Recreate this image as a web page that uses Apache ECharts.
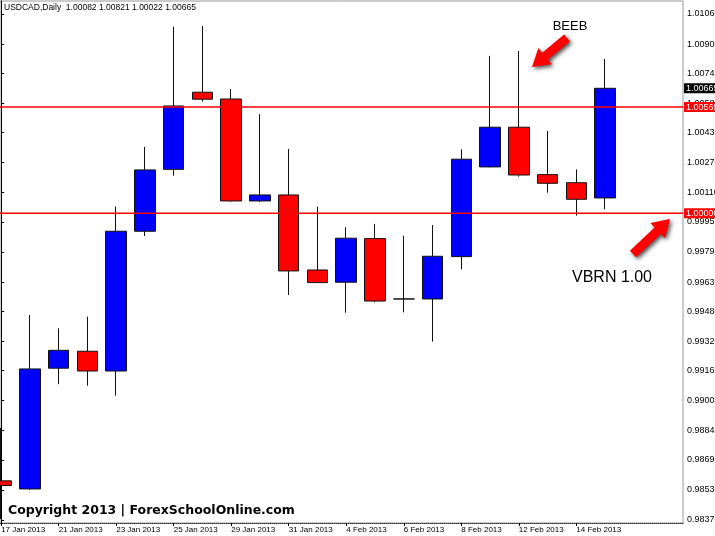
<!DOCTYPE html>
<html>
<head>
<meta charset="utf-8">
<title>USDCAD Daily</title>
<script src="https://cdn.jsdelivr.net/npm/echarts@6/dist/echarts.min.js"></script>
<style>
  html, body { margin: 0; padding: 0; background: #fff; }
  #chart { width: 715px; height: 536px; }
</style>
</head>
<body>
<div id="chart"></div>
<script>
// USDCAD daily candles
const dates = [
  '17 Jan 2013', '18 Jan 2013', '21 Jan 2013', '22 Jan 2013', '23 Jan 2013', '24 Jan 2013',
  '25 Jan 2013', '28 Jan 2013', '29 Jan 2013', '30 Jan 2013', '31 Jan 2013', '1 Feb 2013',
  '4 Feb 2013', '5 Feb 2013', '6 Feb 2013', '7 Feb 2013', '8 Feb 2013', '11 Feb 2013',
  '12 Feb 2013', '13 Feb 2013', '14 Feb 2013', '15 Feb 2013'
];
const opens = [
  0.98578, 0.98535, 0.99177, 0.99267, 0.99162, 0.99905, 1.00234, 1.00644, 1.00608, 1.00066, 1.00098,
  0.99699, 0.99634, 0.99866, 0.99545, 0.99545, 0.99770, 1.00247, 1.00458, 1.00206, 1.00163, 1.00082
];
const highs = [
  0.98859, 0.99460, 0.99389, 0.99451, 1.00036, 1.00353, 1.00992, 1.00996, 1.00661, 1.00528, 1.00342,
  1.00036, 0.99926, 0.99944, 0.99881, 0.99938, 1.00341, 1.00837, 1.00863, 1.00438, 1.00234, 1.00821
];
const lows = [
  0.98375, 0.98530, 0.99092, 0.99084, 0.99031, 0.99880, 1.00200, 1.00594, 1.00062, 1.00060, 0.99566,
  0.99630, 0.99472, 0.99527, 0.99474, 0.99318, 0.99703, 1.00245, 1.00195, 1.00110, 0.99988, 1.00022
];
const closes = [
  0.98553, 0.99173, 0.99272, 0.99162, 0.99905, 1.00231, 1.00571, 1.00607, 1.00066, 1.00098, 0.99694,
  0.99632, 0.99868, 0.99534, 0.99545, 0.99772, 1.00288, 1.00458, 1.00204, 1.00160, 1.00075, 1.00665
];

// price scale labels as MT4 printed them
const yTicks = [
  0.98370, 0.98530, 0.98690, 0.98845, 0.99005, 0.99165, 0.99320, 0.99480, 0.99635,
  0.99795, 0.99955, 1.00110, 1.00270, 1.00430, 1.00585, 1.00745, 1.00900, 1.01060
];
// every second bar gets a date label
const dateTicks = [0, 2, 4, 6, 8, 10, 12, 14, 16, 18, 20];

const levels = [1.00565, 1.00000];   // horizontal S/R lines
const bid = 1.00665;                 // last price box
const title = 'USDCAD,Daily  1.00082 1.00821 1.00022 1.00665';

const X_MIN = -0.04, X_MAX = 23.71;  // bar 0 sits right on the left edge, empty space after last bar
const FONT = 'Liberation Sans';

// fat annotation arrow as a polygon, from tail to tip
function arrow(tail, tip, shaft, headW, headL) {
  const dx = tip[0] - tail[0], dy = tip[1] - tail[1];
  const len = Math.sqrt(dx * dx + dy * dy);
  const ux = dx / len, uy = dy / len;
  const nx = -uy, ny = ux;
  const bx = tip[0] - ux * headL, by = tip[1] - uy * headL;
  const pts = [
    [tail[0] + nx * shaft / 2, tail[1] + ny * shaft / 2],
    [bx + nx * shaft / 2, by + ny * shaft / 2],
    [bx + nx * headW / 2, by + ny * headW / 2],
    tip,
    [bx - nx * headW / 2, by - ny * headW / 2],
    [bx - nx * shaft / 2, by - ny * shaft / 2],
    [tail[0] - nx * shaft / 2, tail[1] - ny * shaft / 2]
  ];
  return {
    type: 'polygon',
    shape: { points: pts },
    style: {
      fill: '#ff0000',
      shadowBlur: 4,
      shadowColor: 'rgba(0,0,0,0.7)',
      shadowOffsetX: 2,
      shadowOffsetY: 2
    },
    z: 10
  };
}

const chart = echarts.init(document.getElementById('chart'));

const candles = dates.map((d, i) => [i, opens[i], closes[i], lows[i], highs[i]]);

// horizontal level lines, drawn as two-point line series
const levelSeries = levels.map((v) => ({
  type: 'line',
  data: [[X_MIN, v], [X_MAX, v]],
  showSymbol: false,
  silent: true,
  lineStyle: { color: '#ff0000', width: 1.5, opacity: 1 },
  z: 3
}));

// price boxes on the scale
const priceBox = (v, bg) => ({
  value: [X_MAX, v],
  label: { backgroundColor: bg }
});

const option = {
  animation: false,
  backgroundColor: '#fff',
  grid: {
    left: 0,
    right: 32,
    top: 1,
    bottom: 13,
    show: true,
    borderColor: '#999',
    borderWidth: 1,
    outerBoundsMode: 'none'
  },
  xAxis: {
    type: 'value',
    min: X_MIN,
    max: X_MAX,
    axisLine: { onZero: false, lineStyle: { color: '#333', type: 'dotted', width: 1 } },
    axisTick: { show: true, customValues: dateTicks, length: 3, lineStyle: { color: '#000' } },
    axisLabel: {
      customValues: dateTicks,
      formatter: (v) => dates[v],
      align: 'left',
      margin: 3,
      color: '#000',
      fontFamily: FONT,
      fontSize: 8
    },
    splitLine: { show: false }
  },
  yAxis: {
    type: 'value',
    position: 'right',
    min: 0.98354,
    max: 1.01129,
    axisLine: { show: true, lineStyle: { color: '#000', width: 1 } },
    axisTick: { show: true, customValues: yTicks, length: 3, lineStyle: { color: '#000' } },
    axisLabel: {
      customValues: yTicks,
      formatter: (v) => v.toFixed(5),
      margin: 4,
      color: '#000',
      fontFamily: FONT,
      fontSize: 9
    },
    splitLine: { show: false }
  },
  series: [
    {
      type: 'candlestick',
      data: candles,
      barWidth: 21,
      clip: true,
      itemStyle: {
        color: '#0000ff',
        color0: '#ff0000',
        borderColor: '#111',
        borderColor0: '#111',
        borderColorDoji: '#111',
        borderWidth: 1
      }
    },
    ...levelSeries,
    {
      type: 'scatter',
      clip: false,
      silent: true,
      symbolSize: 0.1,
      itemStyle: { color: '#fff', opacity: 1 },
      z: 5,
      label: {
        show: true,
        position: 'right',
        distance: 1,
        opacity: 1,
        formatter: (p) => p.value[1].toFixed(5),
        color: '#fff',
        padding: [1, 2, 0, 2],
        fontFamily: FONT,
        fontSize: 9
      },
      data: [
        priceBox(levels[0], '#ff0000'),
        priceBox(levels[1], '#ff0000'),
        priceBox(bid, '#000')
      ]
    }
  ],
  graphic: [
    {
      type: 'text', left: 4, top: 3,
      style: { text: title, fill: '#000', font: '8.5px "' + FONT + '"' }
    },
    {
      type: 'text', left: 8, top: 504,
      style: { text: 'Copyright 2013 | ForexSchoolOnline.com', fill: '#000', font: 'bold 12.5px "DejaVu Sans"' },
      z: 10
    },
    {
      type: 'text', x: 570, y: 26,
      style: { text: 'BEEB', fill: '#000', font: '13px "' + FONT + '"', align: 'center', verticalAlign: 'middle' },
      z: 10
    },
    {
      type: 'text', x: 612, y: 278,
      style: { text: 'VBRN 1.00', fill: '#000', font: '16px "' + FONT + '"', align: 'center', verticalAlign: 'middle' },
      z: 10
    },
    arrow([567, 38], [532, 67], 9, 21, 17),
    arrow([633, 254], [670, 219], 9, 21, 17)
  ]
};

chart.setOption(option);
</script>
</body>
</html>
